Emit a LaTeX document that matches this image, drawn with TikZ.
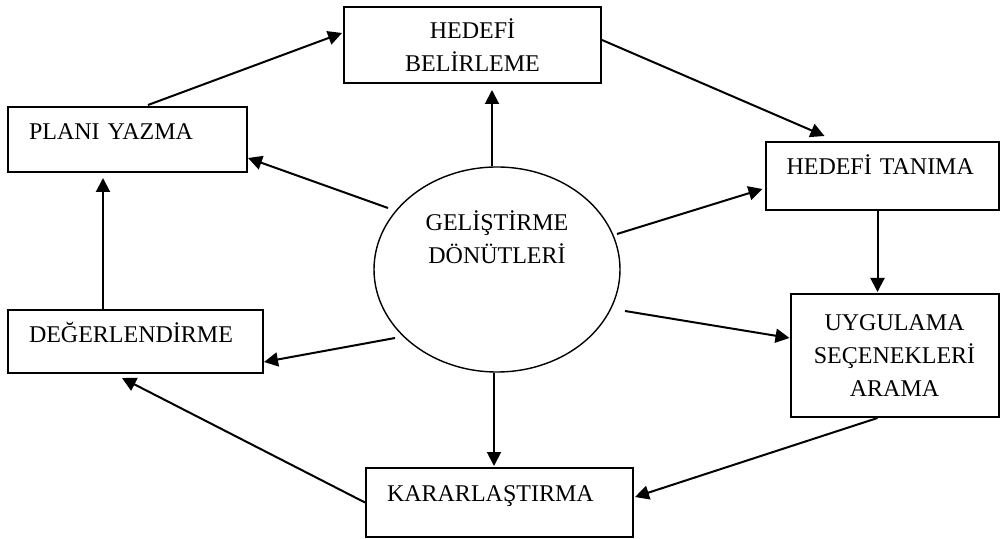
\documentclass[tikz,border=0pt]{standalone}
\usepackage{fontspec}
\setmainfont{Liberation Serif}
\usetikzlibrary{arrows.meta,shapes.geometric,calc}
\tikzset{
  yazi/.style={font=\fontsize{12}{16.5}\selectfont},
  kutu/.style={draw, line width=1pt, inner sep=0pt, yazi},
  kutu-orta/.style={kutu, align=center},
  kutu-sol/.style={kutu, inner xsep=10.5pt, align=left,
    text height=8pt, text depth=#1},
  ok/.style={-{Triangle[length=7pt,width=7pt]}, line width=1pt}
}
\begin{document}
\begin{tikzpicture}[x=0.5pt, y=-0.5pt]
\useasboundingbox (0,0) rectangle (1000,539);
\node[kutu-orta, minimum width=128.5pt, minimum height=38pt] (belirleme)
  at (472.5,45) {HEDEFİ\\BELİRLEME};
\node[kutu-sol=7.5pt, text width=98.5pt, minimum height=32.5pt] (plan)
  at (127.5,139.5) {PLANI YAZMA};
\node[kutu-sol=9pt, text width=95.5pt, minimum height=34pt] (tanima)
  at (882,176) {HEDEFİ TANIMA};
\node[kutu-orta, minimum width=104pt, minimum height=61.5pt] (uygulama)
  at (894.5,355.5) {UYGULAMA\\SEÇENEKLERİ\\ARAMA};
\node[kutu-sol=6.5pt, text width=106.5pt, minimum height=31.5pt] (deger)
  at (135.5,341.5) {DEĞERLENDİRME};
\node[kutu-sol=9.5pt, text width=112.5pt, minimum height=34.5pt] (karar)
  at (499.5,502.5) {KARARLAŞTIRMA};
\node[ellipse, draw, line width=0.7pt, minimum width=123pt,
  minimum height=102.5pt, inner sep=0pt,
  label={[yazi, align=center, yshift=16pt]center:GELİŞTİRME\\DÖNÜTLERİ}]
  (donut) at (497,269.5) {};

\draw[ok] ($(donut.north)+(-5,0)$) -- ($(belirleme.south)+(19.5,6)$);
\draw[ok] ($(plan.north)+(20.5,-1)$) -- ($(belirleme.west)+(-1,-12)$);
\draw[ok] ($(belirleme.east)+(0,-5)$) -- ($(tanima.north)+(-57.5,-5)$);
\draw[ok] ($(donut.center)+(-109,-61.5)$) -- ($(plan.east)+(0,18.5)$);
\draw[ok] ($(deger.north)+(-32.5,0)$) -- ($(plan.south)+(-24.5,5)$);
\draw[ok] ($(donut.center)+(-102,68.5)$) -- ($(deger.east)+(0,20.5)$);
\draw[ok] (karar.west) -- ($(deger.south)+(-13.5,4)$);
\draw[ok] ($(donut.south)+(-3,0)$) -- ($(karar.north)+(-5.5,-1)$);
\draw[ok] ($(uygulama.south)+(-17,0)$) -- ($(karar.east)+(1,-5.5)$);
\draw[ok] ($(donut.center)+(120,-35.5)$) -- ($(tanima.west)+(-2,13)$);
\draw[ok] ($(tanima.south)+(-4.5,0)$) -- ($(uygulama.north)+(-17,-1)$);
\draw[ok] ($(donut.center)+(128,41.5)$) -- ($(uygulama.west)+(0,-17.5)$);
\end{tikzpicture}
\end{document}
